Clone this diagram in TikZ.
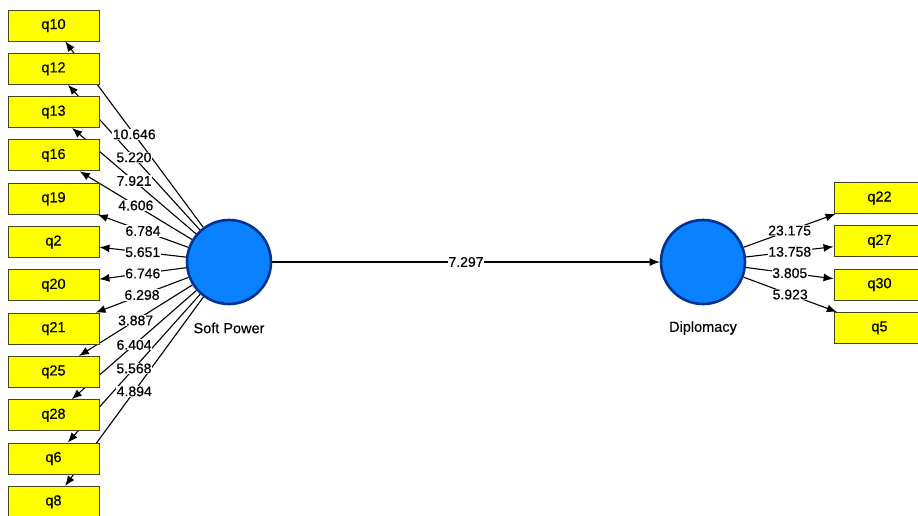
\documentclass[tikz,border=0pt]{standalone}
\usepackage{fontspec}
\setmainfont{Liberation Sans}[FakeBold=0.35]
\usetikzlibrary{arrows.meta,backgrounds}
\definecolor{boxyellow}{RGB}{255,255,0}
\definecolor{boxedge}{RGB}{70,70,30}
\definecolor{lvfill}{RGB}{10,130,255}
\definecolor{lvedge}{RGB}{0,50,145}
\tikzset{
  ind/.style={draw=boxedge, line width=0.9pt, fill=boxyellow, minimum width=91pt, minimum height=31pt, inner sep=0pt, font=\fontsize{14.5}{16}\selectfont},
  lv/.style={circle, draw=lvedge, line width=2.6pt, fill=lvfill, minimum size=84pt, inner sep=0pt},
  lvcaption/.style={font=\fontsize{14.5}{16}\selectfont},
  conn/.style={draw=black, line width=1.1pt, -{Latex[length=10pt,width=8pt]}},
  lbl/.style={fill=white, inner sep=0.6pt, font=\fontsize{14}{15}\selectfont}
}
\begin{document}
\begin{tikzpicture}[x=1pt,y=-1pt]
\useasboundingbox (0,0) rectangle (918,515);
% latent variables
\node[lv] (sp) at (229,262) {};
\node[lv] (dip) at (703,262) {};
\node[lvcaption] (spl) at (229,328) {Soft Power};
\node[lvcaption] (dipl) at (703,328) {Diplomacy};
% left indicators
\foreach \n/\k in {q10/0,q12/1,q13/2,q16/3,q19/4,q2/5,q20/6,q21/7,q25/8,q28/9,q6/10,q8/11}{
  \node[ind] (\n) at (53.5,{25.5+43.3*\k}) {\n};
}
% right indicators
\foreach \n/\k in {q22/0,q27/1,q30/2,q5/3}{
  \node[ind] (\n) at (879.5,{198+43.3*\k}) {\n};
}
% connectors behind boxes
\begin{pgfonlayer}{background}
\foreach \n in {q10,q12,q13,q16,q19,q2,q20,q21,q25,q28,q6,q8}{
  \draw[conn] (sp) -- (\n);
}
\foreach \n in {q22,q27,q30,q5}{
  \draw[conn] (dip) -- (\n);
}
\draw[conn] (sp) -- (dip);
\end{pgfonlayer}
% labels
\foreach \n/\v in {q10/10.646,q12/5.220,q13/7.921,q16/4.606,q19/6.784,q2/5.651,q20/6.746,q21/6.298,q25/3.887,q28/6.404,q6/5.568,q8/4.894}{
  \path (sp) -- node[lbl] {\v} (\n);
}
\foreach \n/\v in {q22/23.175,q27/13.758,q30/3.805,q5/5.923}{
  \path (dip) -- node[lbl] {\v} (\n);
}
\path (sp) -- node[lbl] {7.297} (dip);
\end{tikzpicture}
\end{document}
